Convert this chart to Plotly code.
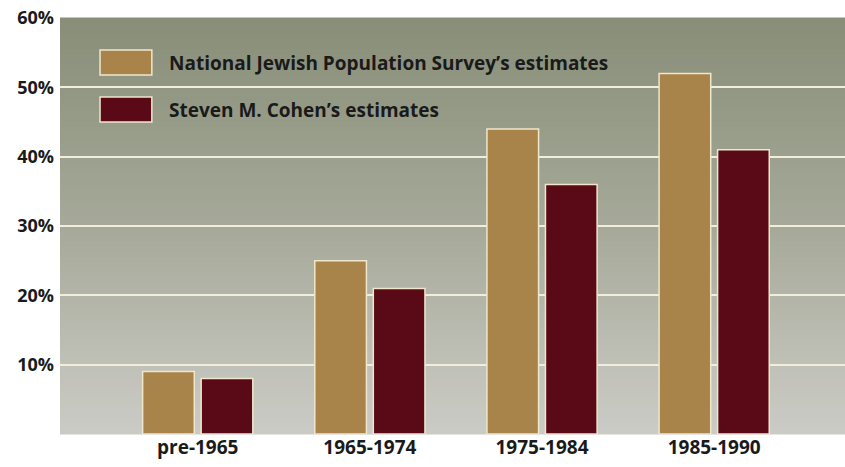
import plotly.graph_objects as go

categories = ["pre-1965", "1965-1974", "1975-1984", "1985-1990"]
njps_values = [9, 25, 44, 52]
cohen_values = [8, 21, 36, 41]
series_names = ["National Jewish Population Survey’s estimates", "Steven M. Cohen’s estimates"]
tick_vals = [10, 20, 30, 40, 50, 60]
tick_text = ["10%", "20%", "30%", "40%", "50%", "60%"]

TAN = "#a8844a"
MAROON = "#5a0a16"
EDGE = "#efe6cc"
FONT = "Open Sans"
TXT = "#1a1a1a"

fig = go.Figure()
fig.add_trace(go.Bar(x=categories, y=njps_values, name=series_names[0],
                     marker=dict(color=TAN, line=dict(color=EDGE, width=1.5)),
                     width=0.30, offset=-0.32, showlegend=False))
fig.add_trace(go.Bar(x=categories, y=cohen_values, name=series_names[1],
                     marker=dict(color=MAROON, line=dict(color=EDGE, width=1.5)),
                     width=0.30, offset=0.02, showlegend=False))

# vertical gradient background
def lerp(c1, c2, t):
    return tuple(round(a + (b - a) * t) for a, b in zip(c1, c2))

top_c = (0x88, 0x8e, 0x78)
mid_c = (0xa6, 0xa9, 0x99)
bot_c = (0xcb, 0xcb, 0xc5)
shapes = []
N = 80
for i in range(N):
    t = i / (N - 1)
    if t < 0.5:
        c = lerp(top_c, mid_c, t / 0.5)
    else:
        c = lerp(mid_c, bot_c, (t - 0.5) / 0.5)
    y1 = 1 - i / N
    y0 = 1 - (i + 1) / N
    shapes.append(dict(type="rect", xref="paper", yref="paper", x0=0, x1=1,
                       y0=y0 - 0.001, y1=y1 + 0.001, layer="below",
                       fillcolor="rgb(%d,%d,%d)" % c, line=dict(width=0)))

# legend drawn manually
legend_colors = [TAN, MAROON]
legend_y = [0.893, 0.780]
for name, col, yc in zip(series_names, legend_colors, legend_y):
    shapes.append(dict(type="rect", xref="paper", yref="paper",
                       x0=0.051, x1=0.117, y0=yc - 0.030, y1=yc + 0.030,
                       fillcolor=col, line=dict(color=EDGE, width=1.5), layer="above"))
annotations = []
for name, yc in zip(series_names, legend_y):
    annotations.append(dict(text=name, xref="paper", yref="paper", x=0.136, y=yc,
                            xanchor="left", yanchor="middle", showarrow=False,
                            font=dict(family=FONT, size=19, color=TXT, weight="bold")))

fig.update_layout(
    width=845, height=467,
    margin=dict(l=60, r=0, t=18, b=33),
    paper_bgcolor="white",
    plot_bgcolor="#a6a998",
    shapes=shapes,
    annotations=annotations,
    xaxis=dict(range=[-0.80, 3.76], showgrid=False, zeroline=False, showline=False,
               ticks="", ticklabelstandoff=0,
               tickfont=dict(family=FONT, size=19, color=TXT, weight="bold")),
    yaxis=dict(range=[0, 60], tickvals=tick_vals, ticktext=tick_text,
               showgrid=True, gridcolor="#f1eedc", gridwidth=2, zeroline=False,
               showline=False, ticks="", ticklabelstandoff=5,
               tickfont=dict(family=FONT, size=18, color=TXT, weight="bold")),
    showlegend=False,
)

fig.write_html("out.html")
